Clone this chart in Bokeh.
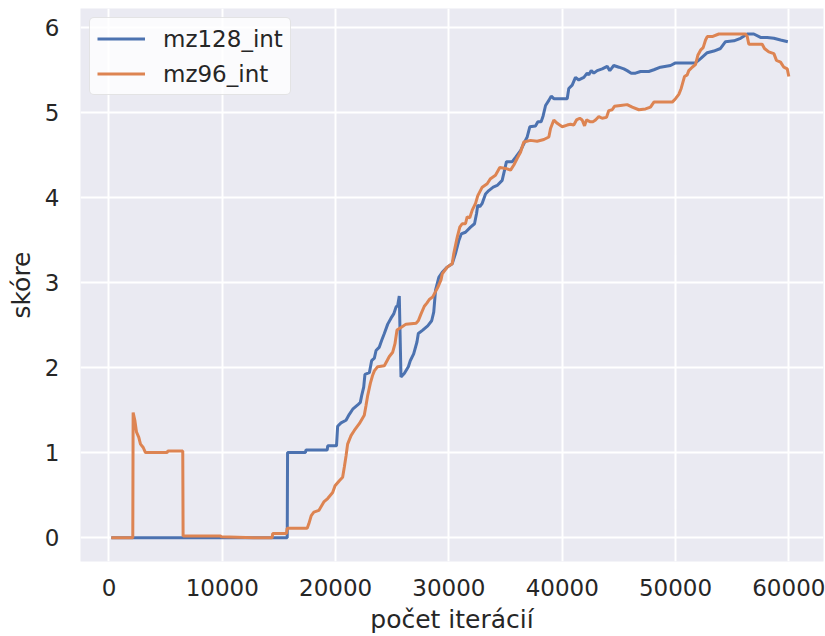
from bokeh.plotting import figure
from bokeh.models import Range1d, FixedTicker, Legend, LegendItem
from bokeh.embed import file_html
from bokeh.resources import INLINE

# mz128_int series
mz128_x = [200, 15730, 15760, 17340, 17380, 19260, 19300, 20080, 20180, 20480, 20920, 21210,
           21510, 21950, 22180, 22300, 22480, 22590, 22980, 23180, 23420, 23570, 23860, 24070,
           24300, 24600, 24890, 25130, 25330, 25480, 25620, 25770, 26060, 26420, 26590, 26890,
           27180, 27300, 27690, 28130, 28480, 28660, 28820, 29110, 29410, 29850, 30290, 30580,
           30870, 31090, 31460, 31910, 32260, 32440, 32550, 32730, 32940, 33230, 33520, 33910,
           34260, 34700, 34910, 35080, 35590, 35880, 36320, 36610, 36910, 37140, 37640, 37850,
           38140, 38320, 38530, 38820, 39030, 39260, 40440, 40580, 40880, 41170, 41460, 41910,
           42200, 42350, 42560, 42790, 43090, 43530, 43970, 44200, 44550, 45000, 45440, 45730,
           46090, 46470, 46910, 47640, 48090, 48670, 49560, 50000, 51760, 52210, 52800, 53380,
           53970, 54410, 55150, 55740, 56330, 56910, 57500, 58090, 58680, 59270, 59910]
mz128_y = [0.0, 0.0, 1.0, 1.0, 1.03, 1.03, 1.08, 1.08, 1.31, 1.35, 1.38, 1.45,
           1.51, 1.56, 1.59, 1.67, 1.77, 1.92, 1.94, 2.08, 2.11, 2.20, 2.24, 2.32,
           2.40, 2.51, 2.58, 2.63, 2.71, 2.73, 2.84, 1.89, 1.93, 2.01, 2.08, 2.16,
           2.30, 2.40, 2.44, 2.49, 2.55, 2.65, 2.91, 3.06, 3.12, 3.18, 3.22, 3.34,
           3.49, 3.57, 3.59, 3.65, 3.69, 3.81, 3.91, 3.89, 3.93, 4.04, 4.08, 4.12,
           4.14, 4.20, 4.32, 4.42, 4.42, 4.47, 4.55, 4.63, 4.71, 4.83, 4.84, 4.89,
           4.89, 4.96, 5.08, 5.14, 5.19, 5.16, 5.16, 5.28, 5.32, 5.41, 5.38, 5.41,
           5.46, 5.44, 5.49, 5.46, 5.49, 5.51, 5.54, 5.49, 5.55, 5.53, 5.51, 5.49,
           5.46, 5.46, 5.48, 5.48, 5.50, 5.53, 5.55, 5.58, 5.58, 5.63, 5.70, 5.72,
           5.75, 5.83, 5.84, 5.87, 5.92, 5.92, 5.88, 5.88, 5.87, 5.85, 5.83]

# mz96_int series
mz96_x = [200, 2100, 2130, 2280, 2430, 2630, 2780, 3020, 3220, 5130, 5200, 6510, 6540, 9840,
          9900, 12780, 14400, 14450, 15670, 15720, 17490, 17630, 17850, 18080, 18520, 18960,
          19300, 19740, 19950, 20330, 20620, 20770, 20920, 21060, 21360, 21650, 22090, 22530,
          22680, 22830, 23060, 23270, 23420, 23710, 24300, 24540, 24740, 25040, 25240, 25420,
          25770, 26210, 27100, 27300, 27540, 27830, 28070, 28270, 28570, 28770, 29010, 29300,
          29410, 29850, 30290, 30430, 30730, 30960, 31170, 31460, 31610, 31840, 32060, 32350,
          32550, 32940, 33380, 33670, 34110, 34490, 35000, 35440, 35730, 36030, 36320, 36610,
          37200, 37790, 38380, 38820, 38970, 39260, 39560, 40000, 40440, 40730, 41020, 41260,
          41550, 41760, 41970, 42140, 42440, 42730, 42940, 43230, 43530, 43910, 44110, 44410,
          44610, 45140, 45730, 46180, 46760, 47350, 47790, 48090, 48670, 49710, 50000, 50290,
          50500, 50790, 51030, 51170, 51470, 51760, 51970, 52210, 52440, 52650, 52800, 53240,
          53820, 56180, 56330, 56470, 57650, 57850, 58230, 58680, 58910, 59270, 59560, 59860,
          60000]
mz96_y = [0.0, 0.0, 1.47, 1.38, 1.24, 1.18, 1.10, 1.06, 1.00, 1.00, 1.02, 1.02, 0.02, 0.02,
          0.01, 0.0, 0.0, 0.05, 0.05, 0.11, 0.11, 0.16, 0.26, 0.30, 0.32, 0.42,
          0.46, 0.53, 0.61, 0.67, 0.71, 0.83, 0.96, 1.10, 1.20, 1.26, 1.34, 1.44,
          1.55, 1.67, 1.81, 1.91, 1.96, 2.01, 2.02, 2.08, 2.13, 2.18, 2.28, 2.44,
          2.47, 2.51, 2.52, 2.55, 2.63, 2.72, 2.76, 2.80, 2.83, 2.88, 2.94, 3.03,
          3.10, 3.18, 3.22, 3.34, 3.53, 3.65, 3.69, 3.69, 3.77, 3.76, 3.85, 3.93,
          4.02, 4.12, 4.16, 4.22, 4.26, 4.35, 4.34, 4.32, 4.38, 4.46, 4.53, 4.65,
          4.67, 4.66, 4.68, 4.71, 4.81, 4.91, 4.87, 4.83, 4.85, 4.86, 4.85, 4.91,
          4.93, 4.91, 4.84, 4.91, 4.89, 4.89, 4.91, 4.95, 4.93, 4.94, 5.02, 5.03,
          5.07, 5.08, 5.09, 5.06, 5.03, 5.04, 5.06, 5.12, 5.12, 5.12, 5.16, 5.21,
          5.28, 5.42, 5.44, 5.49, 5.53, 5.56, 5.67, 5.73, 5.76, 5.85, 5.89, 5.89,
          5.92, 5.92, 5.89, 5.80, 5.80, 5.75, 5.71, 5.69, 5.61, 5.59, 5.53, 5.51,
          5.42]

x_ticks = [0, 10000, 20000, 30000, 40000, 50000, 60000]
y_ticks = [0, 1, 2, 3, 4, 5, 6]
series_names = ["mz128_int", "mz96_int"]
series_colors = ["#4c72b0", "#dd8452"]
x_label = "počet iterácií"
y_label = "skóre"

FONT = "DejaVu Sans"
TXT = "#262626"

p = figure(width=825, height=636, output_backend="svg", toolbar_location=None,
           x_range=Range1d(-2515, 63060), y_range=Range1d(-0.28, 6.22),
           min_border_left=80, min_border_right=2, min_border_top=8, min_border_bottom=74)
p.background_fill_color = "#eaeaf2"
p.border_fill_color = "white"
p.outline_line_color = None

for g in (p.xgrid, p.ygrid):
    g.grid_line_color = "white"
    g.grid_line_width = 2
p.xgrid.ticker = FixedTicker(ticks=x_ticks)
p.ygrid.ticker = FixedTicker(ticks=y_ticks)

p.xaxis.ticker = FixedTicker(ticks=x_ticks)
p.yaxis.ticker = FixedTicker(ticks=y_ticks)
for ax in (p.xaxis[0], p.yaxis[0]):
    ax.axis_line_color = None
    ax.major_tick_line_color = None
    ax.minor_tick_line_color = None
    ax.major_tick_out = 0
    ax.major_tick_in = 0
    ax.major_label_text_font = FONT
    ax.major_label_text_font_size = "23px"
    ax.major_label_text_color = TXT
    ax.axis_label_text_font = FONT
    ax.axis_label_text_font_size = "25px"
    ax.axis_label_text_font_style = "normal"
    ax.axis_label_text_color = TXT
p.xaxis.axis_label = x_label
p.yaxis.axis_label = y_label
p.xaxis.major_label_standoff = 17
p.yaxis.major_label_standoff = 21
p.xaxis.axis_label_standoff = 6
p.yaxis.axis_label_standoff = 6

r1 = p.line(mz128_x, mz128_y, line_color=series_colors[0], line_width=3)
r2 = p.line(mz96_x, mz96_y, line_color=series_colors[1], line_width=3)

legend = Legend(items=[LegendItem(label=series_names[0], renderers=[r1]),
                       LegendItem(label=series_names[1], renderers=[r2])],
                location="top_left", margin=9, padding=7, spacing=8,
                glyph_width=48, glyph_height=27, label_standoff=18,
                label_text_font=FONT, label_text_font_size="23px", label_text_color=TXT,
                background_fill_color="white", background_fill_alpha=0.8,
                border_line_color="#cccccc", border_line_width=1.5)
try:
    legend.border_radius = 5
except Exception:
    pass
p.add_layout(legend)

open("out.html", "w").write(file_html(p, INLINE))
